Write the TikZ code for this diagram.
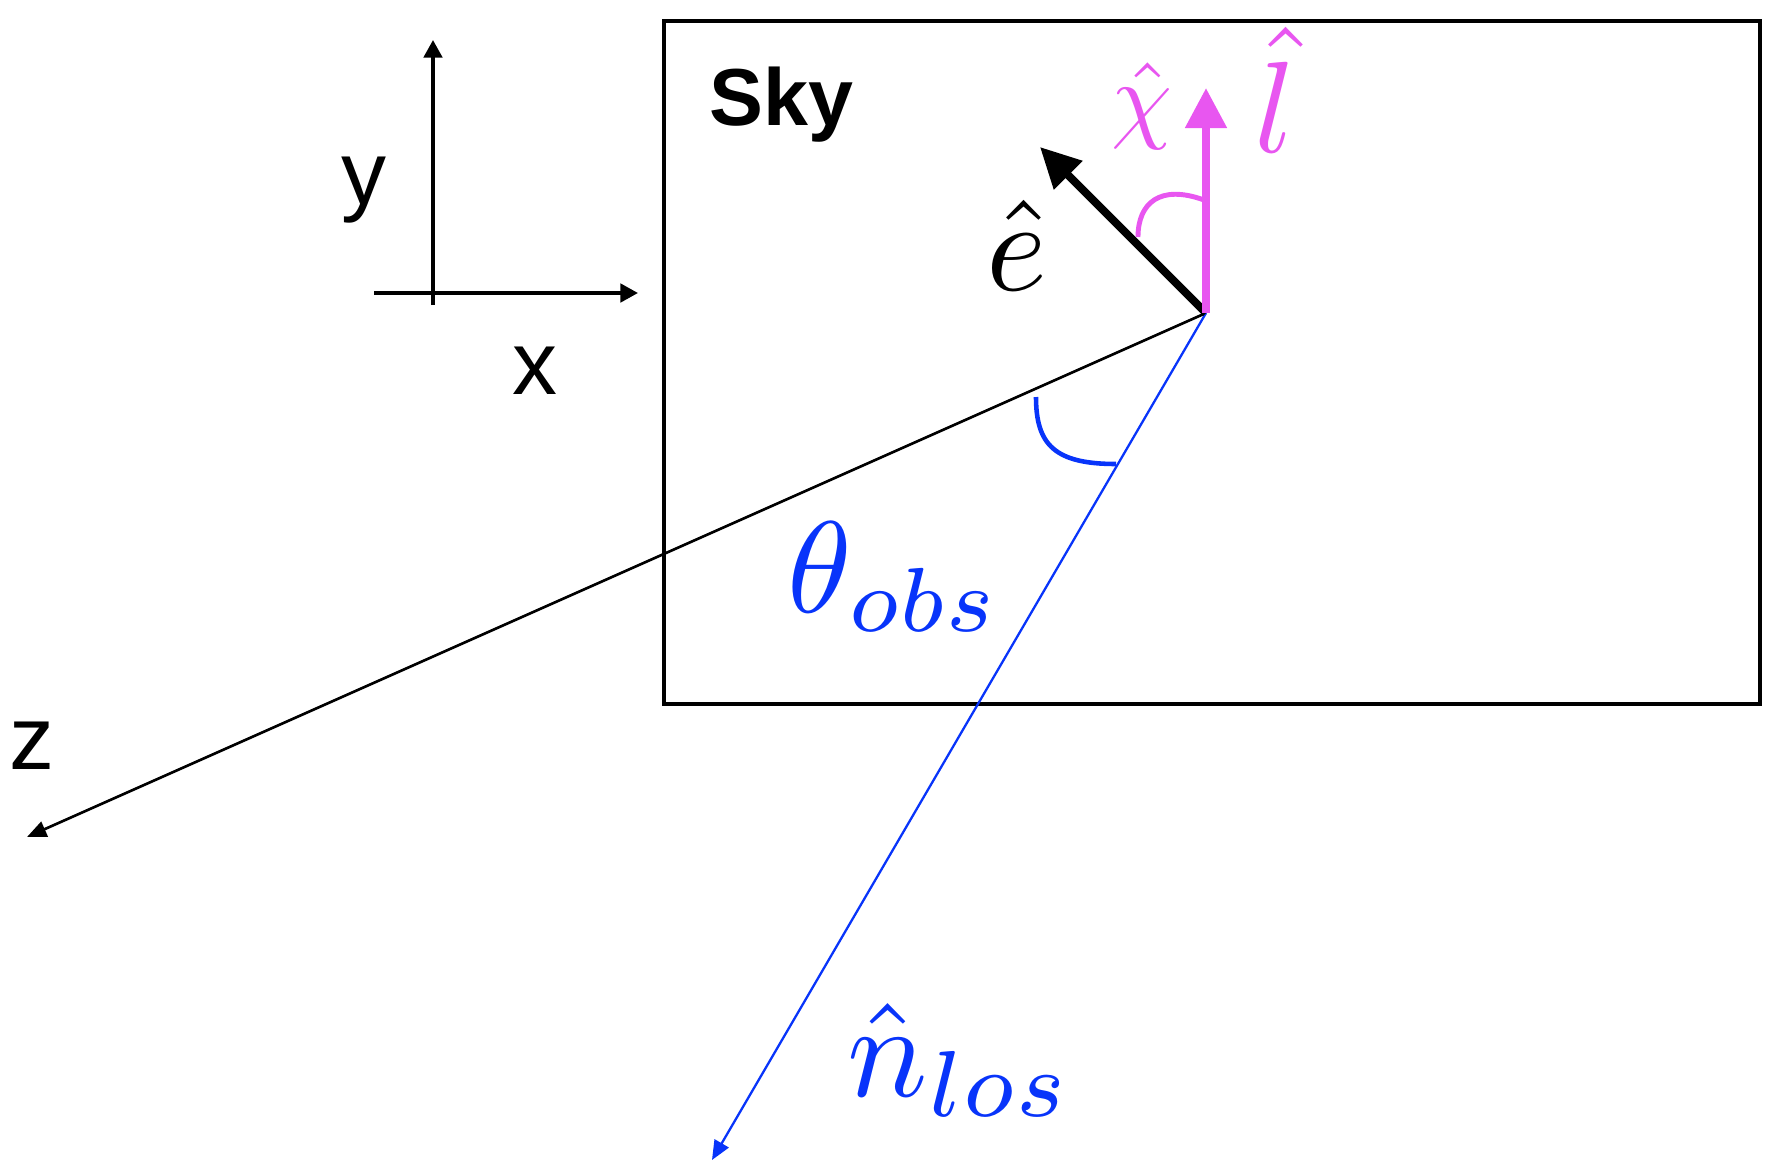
\documentclass[tikz,border=0pt]{standalone}
\usepackage{amsmath,amssymb}
\usepackage{fontspec}
\setsansfont{Liberation Sans}
\usetikzlibrary{arrows.meta}
\definecolor{losblue}{RGB}{8,52,250}
\definecolor{skypink}{RGB}{232,86,240}

\begin{document}
\begin{tikzpicture}[x=0.1mm,y=-0.1mm,
    axislabel/.style={font=\sffamily\fontsize{25.6}{30}\selectfont,inner sep=0pt},
    mathlabel/.style={scale=3.7,inner sep=0pt},
    smalltip/.style={-{Triangle[length=5pt,width=5.2pt]}},
    bigtip/.style={-{Triangle[length=11.4pt,width=11pt]}}]
  \pgfmathsetmacro\ox{1206}
  \pgfmathsetmacro\oy{313}
  \useasboundingbox (0,0) rectangle (1778,1176);

% sky plane
  \draw[line width=1pt] (664,21) rectangle (1760,704);
  \node[font=\sffamily\bfseries\fontsize{23}{28}\selectfont,anchor=base west,inner sep=0pt] (sky) at (709,125) {Sky};

% x-y axes of the sky
  \coordinate (ytip) at (433,40);
  \coordinate (ybot) at (433,305);
  \coordinate (xleft) at (374,293);
  \coordinate (xtip) at (638,293);
  \draw[line width=1.1pt,smalltip] (ybot) -- (ytip);
  \draw[line width=1.1pt,smalltip] (xleft) -- (xtip);
  \node[axislabel] (ylab) at (364,190) {y};
  \node[axislabel] (xlab) at (535,371) {x};

% origin, z axis and line of sight
  \coordinate (O) at (\ox,\oy);
  \coordinate (ztip) at (27,837);
  \coordinate (lostip) at (712,1160);
  \draw[line width=0.75pt,-{Triangle[length=5.5pt,width=4.6pt]}] (O) -- (ztip);
  \node[axislabel] (zlab) at (32,746) {z};
  \draw[losblue,line width=0.65pt,-{Triangle[length=5.5pt,width=4.6pt]}] (O) -- (lostip);
  \draw[losblue,line width=1.3pt] (1036,397) .. controls (1036,445) and (1055,464) .. (1116,464);
  \node[mathlabel,text=losblue,anchor=base west] (thobs) at (785,612) {$\theta_{obs}$};
  \node[mathlabel,scale=1.03,text=losblue,anchor=base west] (nlos) at (845,1096) {$\hat{n}_{los}$};

% e and l vectors
  \coordinate (etip) at (1040,147);
  \coordinate (ltip) at (\ox,88);
  \draw[line width=2.3pt,bigtip] (O) -- (etip);
  \draw[skypink,line width=2.3pt,-{Triangle[length=11.4pt,width=11.4pt]}] (O) -- (ltip);
  \draw[skypink,line width=1.4pt] (1138,237) .. controls (1138,203) and (1160,184) .. (1204,200);
  \node[mathlabel,anchor=base] (elab) at (1017,290) {$\hat{e}$};
  \node[mathlabel,text=skypink,anchor=base] (llab) at (1275,152) {$\hat{l}$};
  \node[mathlabel,scale=0.75,text=skypink,anchor=base] (chilab) at (1142,130) {$\hat{\chi}$};
\end{tikzpicture}
\end{document}
